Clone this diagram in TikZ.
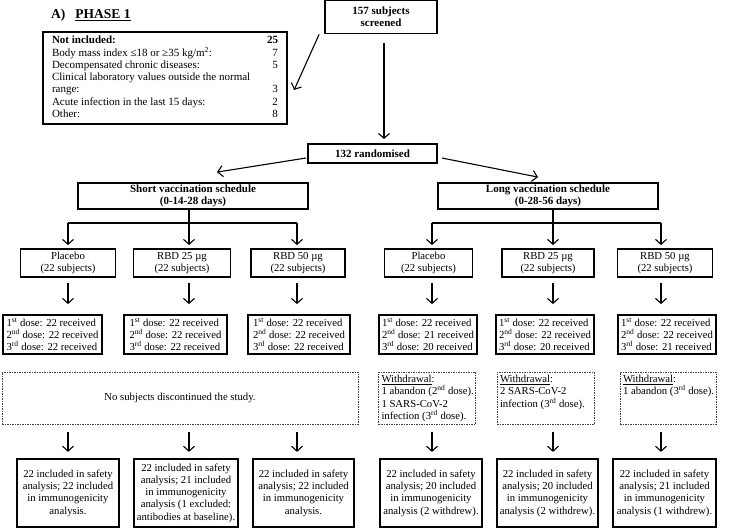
\documentclass[tikz,border=0pt]{standalone}
\usepackage{fontspec}
\setmainfont{Liberation Serif}
\usetikzlibrary{arrows.meta,calc}
\begin{document}
\begin{tikzpicture}[x=1pt,y=-1pt,
  font=\fontsize{10.7}{12.3}\selectfont,
  bx/.style={draw=black, line width=1.8pt, inner sep=0pt, align=center},
  hbox/.style={bx, font=\fontsize{11}{12.3}\selectfont\bfseries},
  grp/.style={bx, minimum width=95pt, minimum height=28pt},
  dosebox/.style={bx, minimum height=39pt, align=left},
  dbox/.style={draw=black!75, line width=0.6pt, dash pattern=on 1.5pt off 1pt, inner sep=0pt, minimum height=52pt},
  res/.style={bx, line width=2.2pt, minimum height=68pt},
  arr/.style={line width=1.1pt, -{Straight Barb[length=5pt,width=11pt,line width=1.1pt]}},
  ln/.style={line width=1.1pt},
]
\useasboundingbox (0,0) rectangle (731,528);

% title
\node[anchor=west, inner sep=0pt, font=\fontsize{13.5}{15}\selectfont\bfseries] (title) at (51,15) {A)\hspace{10pt}\underline{PHASE 1}};

% top
\node[hbox, minimum width=112pt, minimum height=33pt] (s157) at (381,17) {157 subjects\\screened};
\node[bx, line width=2.2pt, minimum width=244pt, minimum height=92pt, font=\fontsize{11}{12.3}\selectfont] (notinc) at (165,78) {%
\begin{tabular*}{226pt}{@{}l@{\extracolsep{\fill}}r@{}}
\textbf{Not included:} & \textbf{25}\\
Body mass index ≤18 or ≥35 kg/m\textsuperscript{2}: & 7\\
Decompensated chronic diseases: & 5\\
Clinical laboratory values outside the normal & \\
range: & 3\\
Acute infection in the last 15 days: & 2\\
Other: & 8
\end{tabular*}};
\node[hbox, minimum width=129pt, minimum height=19pt] (r132) at (372.5,153.5) {132 randomised};

\draw[arr] ($(s157.south west)+(-5,0)$) -- ($(notinc.east)+(6,12)$);
\draw[arr] ($(s157.south)+(3,9)$) -- ($(r132.north)+(11.5,-4)$);

% schedules
\node[hbox, minimum width=230pt, minimum height=26pt] (short) at (193,196) {Short vaccination schedule\\(0-14-28 days)};
\node[hbox, minimum width=220pt, minimum height=26pt] (long) at (548,196) {Long vaccination schedule\\(0-28-56 days)};

\draw[arr] ($(r132.west)+(-1,4.5)$) -- ($(short.north)+(24,-10)$);
\draw[arr] ($(r132.east)+(4,4.5)$) -- ($(long.north)+(-10,-5)$);

% group boxes
\node[grp] (sp1) at (68,263) {Placebo\\(22 subjects)};
\node[grp, minimum width=97pt] (sp2) at (182,263) {RBD 25 µg\\(22 subjects)};
\node[grp, minimum width=94pt] (sp3) at (298,263) {RBD 50 µg\\(22 subjects)};
\node[grp, minimum width=88pt] (lp1) at (428.5,263) {Placebo\\(22 subjects)};
\node[grp, minimum width=92pt] (lp2) at (548,263) {RBD 25 µg\\(22 subjects)};
\node[grp, minimum width=95pt] (lp3) at (665,263) {RBD 50 µg\\(22 subjects)};

% junction coordinates
\coordinate (sj1) at (68,223); \coordinate (sj2) at (189,223); \coordinate (sj3) at (297,223);
\coordinate (lj1) at (432,223); \coordinate (lj2) at (553,223); \coordinate (lj3) at (661,223);

\draw[ln] (sj1) -- (sj3);
\draw[ln] (short.south -| sj2) -- (sj2);
\draw[ln] (lj1) -- (lj3);
\draw[ln] (long.south -| lj2) -- (lj2);

% dose boxes
\node[dosebox, minimum width=99pt] (sd1) at (52.5,334.5) {1\textsuperscript{st} dose: 22 received\\2\textsuperscript{nd} dose: 22 received\\3\textsuperscript{rd} dose: 22 received};
\node[dosebox, minimum width=103pt] (sd2) at (175.5,334.5) {1\textsuperscript{st} dose: 22 received\\2\textsuperscript{nd} dose: 22 received\\3\textsuperscript{rd} dose: 22 received};
\node[dosebox, minimum width=102pt] (sd3) at (299,334.5) {1\textsuperscript{st} dose: 22 received\\2\textsuperscript{nd} dose: 22 received\\3\textsuperscript{rd} dose: 22 received};
\node[dosebox, minimum width=98pt] (ld1) at (428,334.5) {1\textsuperscript{st} dose: 22 received\\2\textsuperscript{nd} dose: 21 received\\3\textsuperscript{rd} dose: 20 received};
\node[dosebox, minimum width=98pt] (ld2) at (545,334.5) {1\textsuperscript{st} dose: 22 received\\2\textsuperscript{nd} dose: 22 received\\3\textsuperscript{rd} dose: 20 received};
\node[dosebox, minimum width=98pt] (ld3) at (667,334.5) {1\textsuperscript{st} dose: 22 received\\2\textsuperscript{nd} dose: 22 received\\3\textsuperscript{rd} dose: 21 received};

% dashed boxes
\node[dbox, minimum width=356pt] (sdash) at (180,398) {No subjects discontinued the study.};
\node[dbox, minimum width=97pt] (ldash1) at (427,398) {\parbox[c][46pt][t]{91pt}{\mbox{\underline{Withdrawal}:}\\\mbox{1 abandon (2\textsuperscript{nd} dose).}\\\mbox{1 SARS-CoV-2}\\\mbox{infection (3\textsuperscript{rd} dose).}}};
\node[dbox, minimum width=97pt] (ldash2) at (545.5,398) {\parbox[c][46pt][t]{91pt}{\mbox{\underline{Withdrawal}:}\\\mbox{2 SARS-CoV-2}\\\mbox{infection (3\textsuperscript{rd} dose).}}};
\node[dbox, minimum width=96pt] (ldash3) at (668,398) {\parbox[c][46pt][t]{90pt}{\mbox{\underline{Withdrawal}:}\\\mbox{1 abandon (3\textsuperscript{rd} dose).}}};

% result boxes
\node[res, minimum width=102pt] (sr1) at (68,493) {22 included in safety\\analysis; 22 included\\in immunogenicity\\analysis.};
\node[res, minimum width=104pt] (sr2) at (186,493) {22 included in safety\\analysis; 21 included\\in immunogenicity\\analysis (1 excluded:\\antibodies at baseline).};
\node[res, minimum width=101pt] (sr3) at (303.5,493) {22 included in safety\\analysis; 22 included\\in immunogenicity\\analysis.};
\node[res, minimum width=102pt] (lr1) at (431,493) {22 included in safety\\analysis; 20 included\\in immunogenicity\\analysis (2 withdrew).};
\node[res, minimum width=101pt] (lr2) at (547.5,493) {22 included in safety\\analysis; 20 included\\in immunogenicity\\analysis (2 withdrew).};
\node[res, minimum width=103pt] (lr3) at (664.5,493) {22 included in safety\\analysis; 21 included\\in immunogenicity\\analysis (1 withdrew).};

% arrows per column
\foreach \i in {1,2,3} {
  \draw[arr] (sj\i) -- ($(sj\i |- sp\i.north)+(0,-3)$);
  \draw[arr] ($(sj\i |- sp\i.south)+(0,5)$) -- ($(sj\i |- sd\i.north)+(0,-10)$);
  \draw[arr] ($(sj\i |- sdash.south)+(0,8)$) -- ($(sj\i |- sr\i.north)+(0,-6)$);
  \draw[arr] (lj\i) -- ($(lj\i |- lp\i.north)+(0,-3)$);
  \draw[arr] ($(lj\i |- lp\i.south)+(0,5)$) -- ($(lj\i |- ld\i.north)+(0,-10)$);
  \draw[arr] ($(lj\i |- ldash\i.south)+(0,8)$) -- ($(lj\i |- lr\i.north)+(0,-6)$);
}
\end{tikzpicture}
\end{document}
